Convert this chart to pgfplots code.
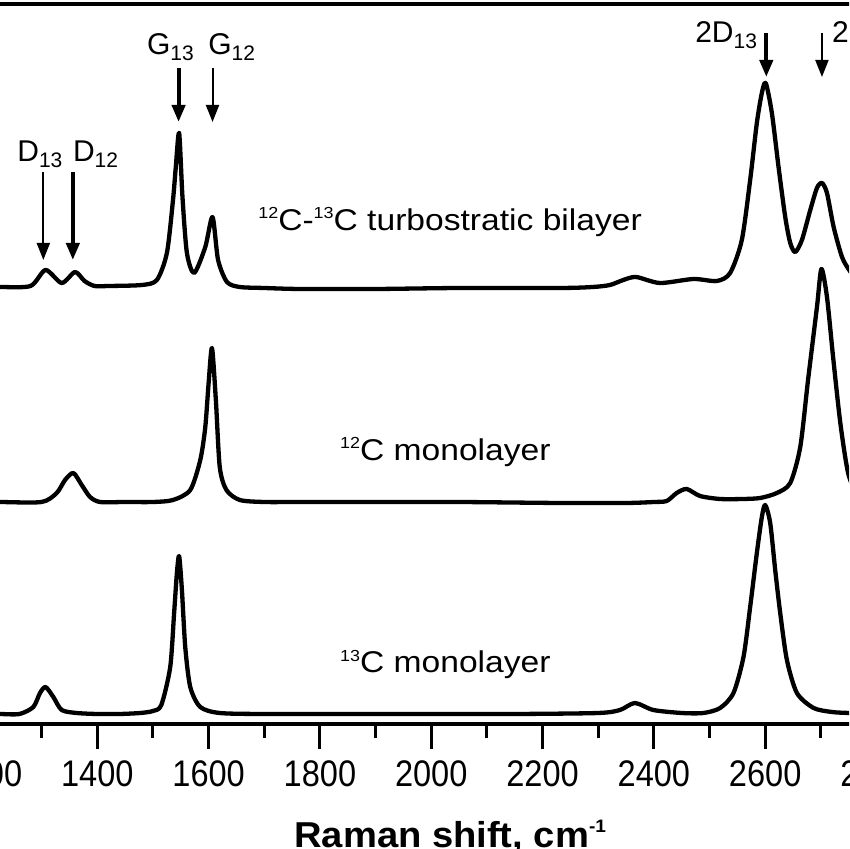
\documentclass[border=0pt]{standalone}
\usepackage{pgfplots}
\pgfplotsset{compat=1.18}
\usepackage{fontspec}
\setmainfont{Liberation Sans}
\newfontfamily\tickfont[FakeStretch=0.88]{Liberation Sans}
\newfontfamily\annfont[FakeStretch=1.12]{Liberation Sans}
\newfontfamily\labfont[FakeStretch=1.06]{Liberation Sans}
\usetikzlibrary{arrows.meta}
\newcommand{\ann}{\annfont\fontsize{30}{30}\selectfont}
\newcommand{\pk}{\fontsize{30}{30}\selectfont}
\newcommand{\sub}[1]{\raisebox{-6pt}{\fontsize{21}{21}\selectfont #1}}
\newcommand{\sups}[1]{\raisebox{12pt}{\fontsize{16}{16}\selectfont #1}}
\begin{document}
\begin{tikzpicture}[x=1pt,y=1pt]
\path[use as bounding box] (0,0) rectangle (849,849);
\clip (0,0) rectangle (849,849);
\begin{axis}[
  at={(-14pt,125pt)}, anchor=south west,
  scale only axis, width=890.5pt, height=720pt,
  xmin=1200, xmax=2800, ymin=0, ymax=720,
  clip=false,
  axis line style={line width=3.5pt},
  xtick={1200,1400,...,2800},
  minor x tick num=1,
  ytick=\empty,
  xtick pos=bottom,
  tick align=outside,
  major tick length=25pt,
  minor tick length=14pt,
  every major tick/.style={line width=3pt, black},
  every minor tick/.style={line width=3pt, black},
  xticklabel style={font=\tickfont\fontsize{37}{37}\selectfont, yshift=-8pt},
  /pgf/number format/assume math mode=true,
  /pgf/number format/set thousands separator={},
]
% 13C monolayer
\addplot[black, line width=4.3pt, line join=round, smooth, tension=0.45] coordinates {
(1200,10)(1225,10)(1260,10)(1285,17)(1297,31)(1307,37)(1321,27)(1336,14)(1363,11)(1400,10)
(1440,10)(1477,11)(1500,13)(1515,19)(1531,57)(1538,111)(1543,151)(1547,168)(1552,134)(1558,77)(1567,37)
(1585,17)(1620,11)(1700,10)(1850,10)(2000,10)(2150,10)(2300,11)(2339,14)(2366,21)(2399,14)(2450,11)(2489,11)
(2519,16)(2543,31)(2561,67)(2573,117)(2585,171)(2594,207)(2600,219)(2609,201)(2618,154)(2627,111)
(2639,64)(2657,31)(2687,16)(2720,12)(2751,11)(2800,10)};
% 12C monolayer
\addplot[black, line width=4.3pt, line join=round, smooth, tension=0.45] coordinates {
(1200,222)(1225,222)(1300,222)(1327,231)(1342,244)(1357,251)(1372,239)(1387,227)(1405,222)
(1450,222)(1500,222)(1536,224)(1567,234)(1585,264)(1594,297)(1600,341)(1606,376)(1613,324)(1620,257)(1632,234)(1656,224)
(1700,222)(1764,222)(1900,222)(2050,222)(2232,221)(2350,221)(2400,222)(2423,223)(2441,231)(2459,235)(2483,228)(2519,225)(2560,225)(2591,226)(2621,231)(2645,241)
(2663,277)(2677,344)(2693,417)(2701,455)(2711,427)(2722,367)(2735,301)(2749,251)(2765,232)(2800,224)};
% turbostratic bilayer
\addplot[black, line width=4.3pt, line join=round, smooth, tension=0.45] coordinates {
(1200,437)(1225,437)(1280,438)(1307,454)(1336,441)(1360,452)(1377,443)(1395,438)(1420,438)(1480,439)(1507,444)
(1525,471)(1536,524)(1541,557)(1547,591)(1553,527)(1561,471)(1574,451)(1594,477)(1607,507)(1617,464)
(1633,442)(1656,437)(1700,436)(1764,435)(1900,435)(2050,436)(2232,436)(2290,437)(2321,439)(2345,444)(2368,447)(2411,441)(2471,445)(2513,443)
(2537,451)(2558,484)(2573,544)(2585,601)(2594,631)(2601,641)(2612,611)(2624,557)(2636,507)(2645,481)
(2654,472)(2666,484)(2681,514)(2693,536)(2702,541)(2711,531)(2723,497)(2738,467)(2751,454)(2765,445)(2800,440)};
% arrows
\draw[line width=2pt, -{Triangle[length=17pt,width=13pt]}] (axis cs:1303,552) -- (axis cs:1303,464);
\draw[line width=4pt, -{Triangle[length=17pt,width=13pt]}] (axis cs:1356,552) -- (axis cs:1356,464);
\draw[line width=4pt, -{Triangle[length=17pt,width=13pt]}] (axis cs:1546,656) -- (axis cs:1546,602);
\draw[line width=2pt, -{Triangle[length=17pt,width=13pt]}] (axis cs:1607,656) -- (axis cs:1607,602);
\draw[line width=4pt, -{Triangle[length=17pt,width=13pt]}] (axis cs:2602,691) -- (axis cs:2602,647);
\draw[line width=2pt, -{Triangle[length=17pt,width=13pt]}] (axis cs:2702,691) -- (axis cs:2702,647);
% peak labels
\node[anchor=base west, inner sep=0] at (axis cs:1256,562) {\pk D\sub{13}};
\node[anchor=base west, inner sep=0] at (axis cs:1356,562) {\pk D\sub{12}};
\node[anchor=base west, inner sep=0] at (axis cs:1489,669) {\pk G\sub{13}};
\node[anchor=base west, inner sep=0] at (axis cs:1599,669) {\pk G\sub{12}};
\node[anchor=base west, inner sep=0] at (axis cs:2474,681) {\pk 2D\sub{13}};
\node[anchor=base west, inner sep=0] at (axis cs:2720,681) {\pk 2D\sub{12}};
% spectrum labels
\node[anchor=base west, inner sep=0] at (axis cs:1689,493) {\ann \sups{12}C-\sups{13}C turbostratic bilayer};
\node[anchor=base west, inner sep=0] at (axis cs:1836,263) {\ann \sups{12}C monolayer};
\node[anchor=base west, inner sep=0] at (axis cs:1836,51) {\ann \sups{13}C monolayer};
% axis label
\node[anchor=base, inner sep=0] at (axis cs:2034,-123) {\labfont\fontsize{36}{36}\selectfont\bfseries Raman shift, cm\raisebox{15pt}{\fontsize{18}{18}\selectfont -1}};
\end{axis}
\end{tikzpicture}
\end{document}
